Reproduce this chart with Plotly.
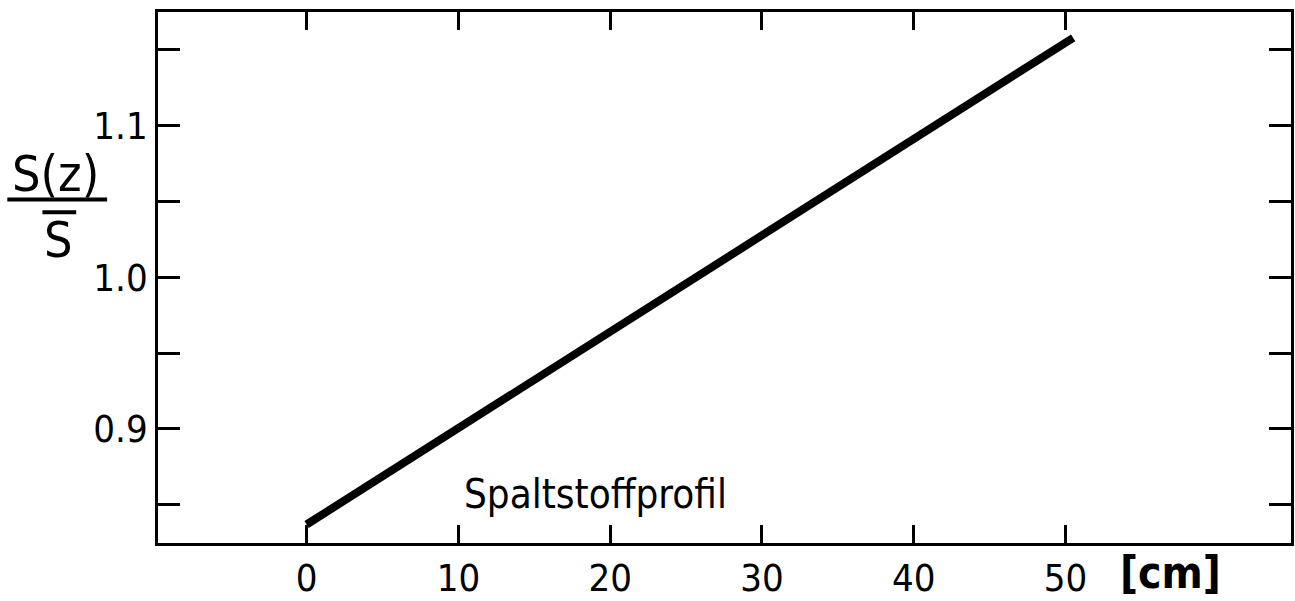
import plotly.graph_objects as go

# Data
z_cm = [0, 50.5]
s_ratio = [0.837, 1.158]
x_ticks = [0, 10, 20, 30, 40, 50]
x_tick_labels = ["0", "10", "20", "30", "40", "50"]
y_ticks = [0.85, 0.9, 0.95, 1.0, 1.05, 1.1, 1.15]
y_tick_labels = ["", "0.9", "", "1.0", "", "1.1", ""]

FONT = "DejaVu Sans Condensed, DejaVu Sans, sans-serif"

fig = go.Figure()
fig.add_trace(go.Scatter(x=z_cm, y=s_ratio, mode="lines",
                         line=dict(color="black", width=8), showlegend=False))

fig.update_layout(
    width=1295, height=601,
    margin=dict(l=158, r=1, t=12, b=53),
    plot_bgcolor="white", paper_bgcolor="white",
    font=dict(family=FONT, color="black", size=38),
)
fig.update_xaxes(range=[-9.79, 64.85], tickvals=x_ticks, ticktext=x_tick_labels,
                 ticks="inside", ticklen=18, tickwidth=2.5, tickcolor="black",
                 showline=True, linewidth=2.5, linecolor="black", mirror="allticks",
                 showgrid=False, zeroline=False, tickfont=dict(size=38, family=FONT))
fig.update_yaxes(range=[0.8248, 1.175], tickvals=y_ticks, ticktext=y_tick_labels,
                 ticks="inside", ticklen=22, tickwidth=2.5, tickcolor="black",
                 showline=True, linewidth=2.5, linecolor="black", mirror="allticks",
                 showgrid=False, zeroline=False, tickfont=dict(size=38, family=FONT))

fig.add_annotation(x=19.0, y=0.857, xref="x", yref="y", text="Spaltstoffprofil",
                   showarrow=False, xanchor="center", yanchor="middle",
                   font=dict(size=40, family=FONT))
fig.add_annotation(x=0.894, y=-0.056, xref="paper", yref="paper", text="<b>[cm]</b>",
                   showarrow=False, xanchor="center", yanchor="middle",
                   font=dict(size=44, family=FONT))
# y-axis title as a fraction S(z) / S-bar
fig.add_annotation(x=-0.0907, y=0.694, xref="paper", yref="paper", text="S(z)",
                   showarrow=False, xanchor="center", yanchor="middle",
                   font=dict(size=50, family=FONT))
fig.add_annotation(x=-0.0876, y=0.571, xref="paper", yref="paper", text="S",
                   showarrow=False, xanchor="center", yanchor="middle",
                   font=dict(size=50, family=FONT))
fig.add_shape(type="line", xref="paper", yref="paper", x0=-0.133, x1=-0.0449,
              y0=0.647, y1=0.647, line=dict(color="black", width=4))
fig.add_shape(type="line", xref="paper", yref="paper", x0=-0.102, x1=-0.0722,
              y0=0.623, y1=0.623, line=dict(color="black", width=4))

fig.write_html("out.html")
